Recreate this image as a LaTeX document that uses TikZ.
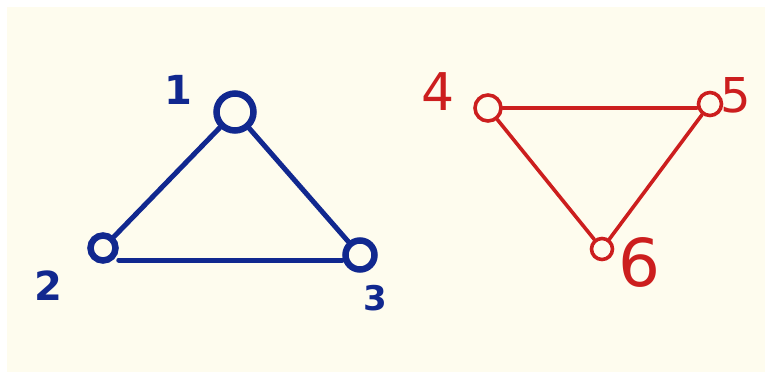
\documentclass[tikz,border=0pt]{standalone}
\usepackage{fontspec}
\setmainfont{DejaVu Sans}
\definecolor{cream}{HTML}{FEFCEE}
\definecolor{penblue}{HTML}{11288F}
\definecolor{penred}{HTML}{CC1E1E}
\begin{document}
\begin{tikzpicture}[x=1pt,y=-1pt,
  bnode/.style={circle,draw=penblue,line width=6.5pt,inner sep=0pt},
  rnode/.style={circle,draw=penred,line width=3.6pt,inner sep=0pt},
  bedge/.style={draw=penblue,line width=5pt,line cap=round},
  redge/.style={draw=penred,line width=3.6pt,line cap=round},
  blabel/.style={text=penblue,font=\bfseries\fontsize{40}{42}\selectfont},
  rlabel/.style={text=penred,font=\fontsize{52}{54}\selectfont}]
\useasboundingbox (0,0) rectangle (769,377);
\fill[white] (0,0) rectangle (769,377);
\fill[cream] (7,7) rectangle (765,372);
% blue graph
\node[bnode,minimum size=37pt] (n1) at (235,112) {};
\node[bnode,minimum size=25pt] (n2) at (103,248) {};
\node[bnode,minimum size=29pt] (n3) at (360,255) {};
\draw[bedge] (n1) -- (n2);
\draw[bedge] (n1) -- (n3);
\draw[bedge] (n2.east |- 0,260) -- (n3.west |- 0,260);
\node[blabel] (l1) at (178,90) {1};
\node[blabel] (l2) at (48,286) {2};
\node[blabel,font=\bfseries\fontsize{34}{36}\selectfont] (l3) at (375,298) {3};
% red graph
\node[rnode,minimum size=26pt] (n4) at (488,108) {};
\node[rnode,minimum size=23pt] (n5) at (710,104) {};
\node[rnode,minimum size=21pt] (n6) at (602,249) {};
\draw[redge] (n4.east) -- (n5.west |- n4.east);
\draw[redge] (n4) -- (n6);
\draw[redge] (n5) -- (n6);
\node[rlabel] (l4) at (438,92) {4};
\node[rlabel,font=\fontsize{48}{50}\selectfont] (l5) at (736,95) {5};
\node[rlabel,font=\fontsize{66}{68}\selectfont] (l6) at (639,262) {6};
\end{tikzpicture}
\end{document}
